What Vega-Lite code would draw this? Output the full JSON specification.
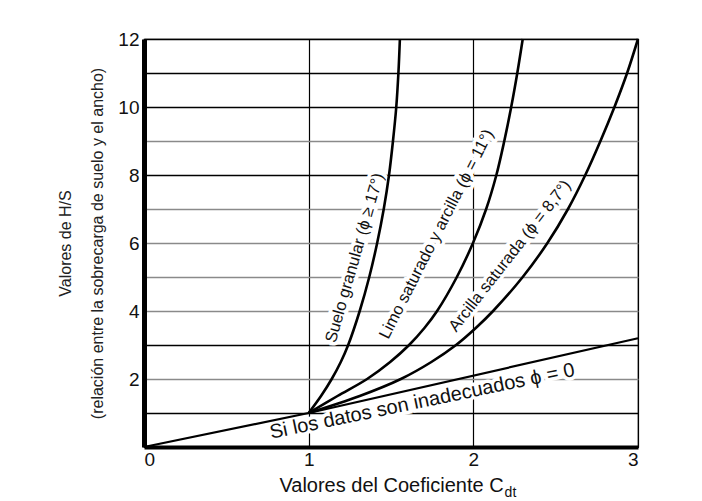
{
  "$schema": "https://vega.github.io/schema/vega-lite/v6.json",
  "width": 494,
  "height": 408,
  "autosize": {"type": "none"},
  "padding": {"left": 144, "top": 39, "right": 64, "bottom": 54},
  "background": "white",
  "config": {
    "font": "Liberation Sans",
    "view": {"stroke": "black", "strokeWidth": 1.2}
  },
  "datasets": {
    "curves": [
      {"curve": "granular", "x": 1.0, "y": 1.0},
      {"curve": "granular", "x": 1.075, "y": 1.5},
      {"curve": "granular", "x": 1.14, "y": 2.0},
      {"curve": "granular", "x": 1.195, "y": 2.5},
      {"curve": "granular", "x": 1.24, "y": 3.0},
      {"curve": "granular", "x": 1.31, "y": 4.0},
      {"curve": "granular", "x": 1.368, "y": 5.0},
      {"curve": "granular", "x": 1.416, "y": 6.0},
      {"curve": "granular", "x": 1.456, "y": 7.0},
      {"curve": "granular", "x": 1.488, "y": 8.0},
      {"curve": "granular", "x": 1.512, "y": 9.0},
      {"curve": "granular", "x": 1.532, "y": 10.0},
      {"curve": "granular", "x": 1.545, "y": 11.0},
      {"curve": "granular", "x": 1.554, "y": 12.0},
      {"curve": "limo", "x": 1.0, "y": 1.0},
      {"curve": "limo", "x": 1.175, "y": 1.5},
      {"curve": "limo", "x": 1.355, "y": 2.0},
      {"curve": "limo", "x": 1.495, "y": 2.5},
      {"curve": "limo", "x": 1.61, "y": 3.0},
      {"curve": "limo", "x": 1.703, "y": 3.5},
      {"curve": "limo", "x": 1.78, "y": 4.0},
      {"curve": "limo", "x": 1.9, "y": 5.0},
      {"curve": "limo", "x": 1.998, "y": 6.0},
      {"curve": "limo", "x": 2.078, "y": 7.0},
      {"curve": "limo", "x": 2.14, "y": 8.0},
      {"curve": "limo", "x": 2.188, "y": 9.0},
      {"curve": "limo", "x": 2.23, "y": 10.0},
      {"curve": "limo", "x": 2.267, "y": 11.0},
      {"curve": "limo", "x": 2.3, "y": 12.0},
      {"curve": "arcilla", "x": 1.0, "y": 1.0},
      {"curve": "arcilla", "x": 1.31, "y": 1.5},
      {"curve": "arcilla", "x": 1.56, "y": 2.0},
      {"curve": "arcilla", "x": 1.745, "y": 2.5},
      {"curve": "arcilla", "x": 1.895, "y": 3.0},
      {"curve": "arcilla", "x": 2.015, "y": 3.5},
      {"curve": "arcilla", "x": 2.12, "y": 4.0},
      {"curve": "arcilla", "x": 2.3, "y": 5.0},
      {"curve": "arcilla", "x": 2.45, "y": 6.0},
      {"curve": "arcilla", "x": 2.575, "y": 7.0},
      {"curve": "arcilla", "x": 2.68, "y": 8.0},
      {"curve": "arcilla", "x": 2.772, "y": 9.0},
      {"curve": "arcilla", "x": 2.857, "y": 10.0},
      {"curve": "arcilla", "x": 2.934, "y": 11.0},
      {"curve": "arcilla", "x": 3.0, "y": 12.0},
      {"curve": "cero", "x": 0.0, "y": 0.0},
      {"curve": "cero", "x": 1.0, "y": 1.0},
      {"curve": "cero", "x": 3.0, "y": 3.2}
    ],
    "labels": [
      {"curve": "granular", "text": "Suelo granular (ϕ ≥ 17°)", "x": 1.28, "y": 5.56},
      {"curve": "limo", "text": "Limo saturado y arcilla (ϕ = 11°)", "x": 1.776, "y": 6.26},
      {"curve": "arcilla", "text": "Arcilla saturada (ϕ = 8,7°)", "x": 2.222, "y": 5.62},
      {"curve": "cero", "text": "Si los datos son inadecuados ϕ = 0", "x": 1.69, "y": 1.34}
    ]
  },
  "encoding": {
    "x": {
      "field": "x",
      "type": "quantitative",
      "scale": {"domain": [0, 3], "nice": false, "zero": false},
      "axis": {
        "values": [0, 1, 2, 3],
        "format": "d",
        "grid": true,
        "gridColor": "#000000",
        "gridWidth": 1.2,
        "domainColor": "#000000",
        "domainWidth": 4,
        "ticks": false,
        "tickSize": 0,
        "labelFontSize": 19,
        "labelColor": "#111111",
        "labelPadding": 3,
        "title": "Valores del Coeficiente C",
        "titleFontSize": 20,
        "titleFontWeight": "normal",
        "titleColor": "#111111",
        "titlePadding": 6
      }
    },
    "y": {
      "field": "y",
      "type": "quantitative",
      "scale": {"domain": [0, 12], "nice": false},
      "axis": {
        "values": [1, 2, 3, 4, 5, 6, 7, 8, 9, 10, 11, 12],
        "labelExpr": "datum.value % 2 == 0 ? datum.label : ''",
        "grid": true,
        "gridColor": {
          "condition": {"test": "indexof([1, 3, 8, 10, 11, 12], datum.value) >= 0", "value": "#000000"},
          "value": "#8a8a8a"
        },
        "gridWidth": 1.3,
        "domainColor": "#000000",
        "domainWidth": 5,
        "ticks": false,
        "tickSize": 0,
        "labelFontSize": 19,
        "labelColor": "#111111",
        "labelPadding": 5,
        "title": ["Valores de H/S", "(relación entre la sobrecarga de suelo y el ancho)"],
        "titleFontSize": 16,
        "titleFontWeight": "normal",
        "titleColor": "#222222",
        "titleLineHeight": 32,
        "titlePadding": 12
      }
    }
  },
  "layer": [
    {
      "data": {"name": "labels"},
      "mark": {"type": "text", "align": "center", "baseline": "middle", "fill": "white", "stroke": "white", "strokeWidth": 7},
      "encoding": {
        "text": {"field": "text"},
        "angle": {
          "condition": [
            {"test": "datum.curve == 'granular'", "value": 286},
            {"test": "datum.curve == 'limo'", "value": 297},
            {"test": "datum.curve == 'arcilla'", "value": 308}
          ],
          "value": 348.3
        },
        "size": {"condition": {"test": "datum.curve == 'cero'", "value": 20}, "value": 16.5}
      }
    },
    {
      "data": {"name": "curves"},
      "transform": [{"filter": "datum.curve != 'cero'"}],
      "mark": {"type": "line", "interpolate": "catmull-rom", "color": "black", "strokeWidth": 2.6},
      "encoding": {"detail": {"field": "curve"}}
    },
    {
      "data": {"name": "curves"},
      "transform": [{"filter": "datum.curve == 'cero'"}],
      "mark": {"type": "line", "color": "black", "strokeWidth": 2.2},
      "encoding": {"detail": {"field": "curve"}}
    },
    {
      "data": {"name": "labels"},
      "mark": {"type": "text", "align": "center", "baseline": "middle", "fill": "#111111"},
      "encoding": {
        "text": {"field": "text"},
        "angle": {
          "condition": [
            {"test": "datum.curve == 'granular'", "value": 286},
            {"test": "datum.curve == 'limo'", "value": 297},
            {"test": "datum.curve == 'arcilla'", "value": 308}
          ],
          "value": 348.3
        },
        "size": {"condition": {"test": "datum.curve == 'cero'", "value": 20}, "value": 16.5}
      }
    },
    {
      "data": {"values": [{"text": "dt", "x": 2.19, "y": 0}]},
      "mark": {"type": "text", "align": "left", "baseline": "middle", "dy": 46, "fontSize": 14, "fill": "#111111"},
      "encoding": {"text": {"field": "text"}}
    }
  ]
}
